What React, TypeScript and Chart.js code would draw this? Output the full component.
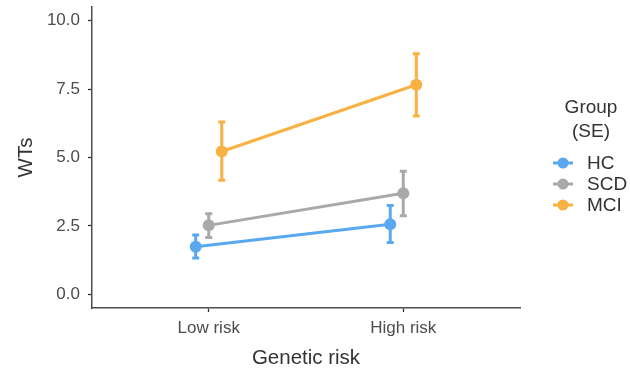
import React, { useEffect, useRef } from "react";
import { Chart, registerables } from "chart.js";

Chart.register(...registerables);

const categories = ["Low risk", "High risk"];
const groupNames = ["HC", "SCD", "MCI"];
const groupColors = ["#5AA8EF", "#A9A9A9", "#F8B143"];

const hcMean = [1.74, 2.56];
const hcLower = [1.33, 1.89];
const hcUpper = [2.17, 3.25];

const scdMean = [2.52, 3.69];
const scdLower = [2.08, 2.87];
const scdUpper = [2.94, 4.5];

const mciMean = [5.22, 7.66];
const mciLower = [4.17, 6.52];
const mciUpper = [6.3, 8.79];

const yTicks = [0, 2.5, 5, 7.5, 10];

const means = [hcMean, scdMean, mciMean];
const lowers = [hcLower, scdLower, mciLower];
const uppers = [hcUpper, scdUpper, mciUpper];

const DODGE = 0.067;
const FONT = "'Liberation Sans', Arial, sans-serif";

export default function App() {
  const ref = useRef<HTMLCanvasElement | null>(null);

  useEffect(() => {
    const canvas = ref.current;
    if (!canvas) return;

    const datasets = groupNames.map((name, gi) => ({
      label: name,
      data: categories.map((_, ci) => ({
        x: ci + 1 + (gi - 1) * DODGE,
        y: means[gi][ci],
      })),
      borderColor: groupColors[gi],
      backgroundColor: groupColors[gi],
      pointBackgroundColor: groupColors[gi],
      pointBorderColor: groupColors[gi],
      borderWidth: 3,
      pointRadius: 6,
      pointBorderWidth: 0,
      showLine: true,
    }));

    const errorBars = {
      id: "errorBars",
      beforeDatasetsDraw(chart: any) {
        const ctx = chart.ctx;
        const xs = chart.scales.x;
        const ys = chart.scales.y;
        ctx.save();
        groupNames.forEach((_, gi) => {
          ctx.strokeStyle = groupColors[gi];
          ctx.lineWidth = 3;
          categories.forEach((__, ci) => {
            const x = xs.getPixelForValue(ci + 1 + (gi - 1) * DODGE);
            const yl = ys.getPixelForValue(lowers[gi][ci]);
            const yu = ys.getPixelForValue(uppers[gi][ci]);
            ctx.beginPath();
            ctx.moveTo(x, yl);
            ctx.lineTo(x, yu);
            ctx.moveTo(x - 3.5, yl);
            ctx.lineTo(x + 3.5, yl);
            ctx.moveTo(x - 3.5, yu);
            ctx.lineTo(x + 3.5, yu);
            ctx.stroke();
          });
        });
        ctx.restore();
      },
    };

    const legendPlugin = {
      id: "customLegend",
      afterDraw(chart: any) {
        const ctx = chart.ctx;
        const area = chart.chartArea;
        const cx = area.right + 71;
        ctx.save();
        ctx.fillStyle = "#333333";
        ctx.font = `19px ${FONT}`;
        ctx.textAlign = "center";
        ctx.textBaseline = "middle";
        ctx.fillText("Group", cx, 108);
        ctx.fillText("(SE)", cx, 132);
        groupNames.forEach((name, gi) => {
          const y = 163 + gi * 21;
          const kx = area.right + 43;
          ctx.strokeStyle = groupColors[gi];
          ctx.lineWidth = 3;
          ctx.beginPath();
          ctx.moveTo(kx - 10, y);
          ctx.lineTo(kx + 10, y);
          ctx.stroke();
          ctx.fillStyle = groupColors[gi];
          ctx.beginPath();
          ctx.arc(kx, y, 5.5, 0, Math.PI * 2);
          ctx.fill();
          ctx.fillStyle = "#333333";
          ctx.textAlign = "left";
          ctx.fillText(name, area.right + 67, y + 1);
        });
        ctx.restore();
      },
    };

    const chart = new Chart(canvas, {
      type: "line",
      data: { datasets },
      options: {
        animation: false,
        responsive: false,
        maintainAspectRatio: false,
        layout: { padding: { top: 7, right: 110, left: 0, bottom: 0 } },
        plugins: {
          legend: { display: false },
          tooltip: { enabled: false },
        },
        scales: {
          x: {
            type: "linear",
            min: 0.4,
            max: 2.6,
            afterBuildTicks(scale: any) {
              scale.ticks = categories.map((_, i) => ({ value: i + 1 }));
            },
            afterFit(scale: any) {
              scale.height = 63;
              scale.paddingLeft = 0;
              scale.paddingRight = 0;
            },
            ticks: {
              callback: (v: any) => categories[Math.round(Number(v)) - 1] ?? "",
              color: "#4D4D4D",
              font: { family: FONT, size: 17 },
              padding: 6,
              maxRotation: 0,
            },
            grid: {
              drawOnChartArea: false,
              drawTicks: true,
              tickLength: 4,
              tickWidth: 1.3,
              tickColor: "#333333",
            },
            border: { display: true, color: "#4D4D4D", width: 1.5 },
            title: {
              display: true,
              text: "Genetic risk",
              color: "#333333",
              font: { family: FONT, size: 20.5 },
              padding: { top: 4, bottom: 0 },
            },
          },
          y: {
            type: "linear",
            min: -0.5,
            max: 10.5,
            afterBuildTicks(scale: any) {
              scale.ticks = yTicks.map((v) => ({ value: v }));
            },
            afterFit(scale: any) {
              scale.width = 92;
              scale.paddingTop = 0;
              scale.paddingBottom = 0;
            },
            ticks: {
              callback: (v: any) => Number(v).toFixed(1),
              color: "#4D4D4D",
              font: { family: FONT, size: 17 },
              padding: 8,
            },
            grid: {
              drawOnChartArea: false,
              drawTicks: true,
              tickLength: 4,
              tickWidth: 1.3,
              tickColor: "#333333",
            },
            border: { display: true, color: "#4D4D4D", width: 1.5 },
            title: {
              display: true,
              text: "WTs",
              color: "#333333",
              font: { family: FONT, size: 20.5 },
              padding: { top: 14, bottom: 0 },
            },
          },
        },
      },
      plugins: [errorBars, legendPlugin],
    } as any);

    return () => chart.destroy();
  }, []);

  return (
    <div style={{ position: "absolute", left: 0, top: 0, width: 630, height: 371, background: "#fff" }}>
      <canvas ref={ref} width={630} height={371} style={{ display: "block" }} />
    </div>
  );
}
